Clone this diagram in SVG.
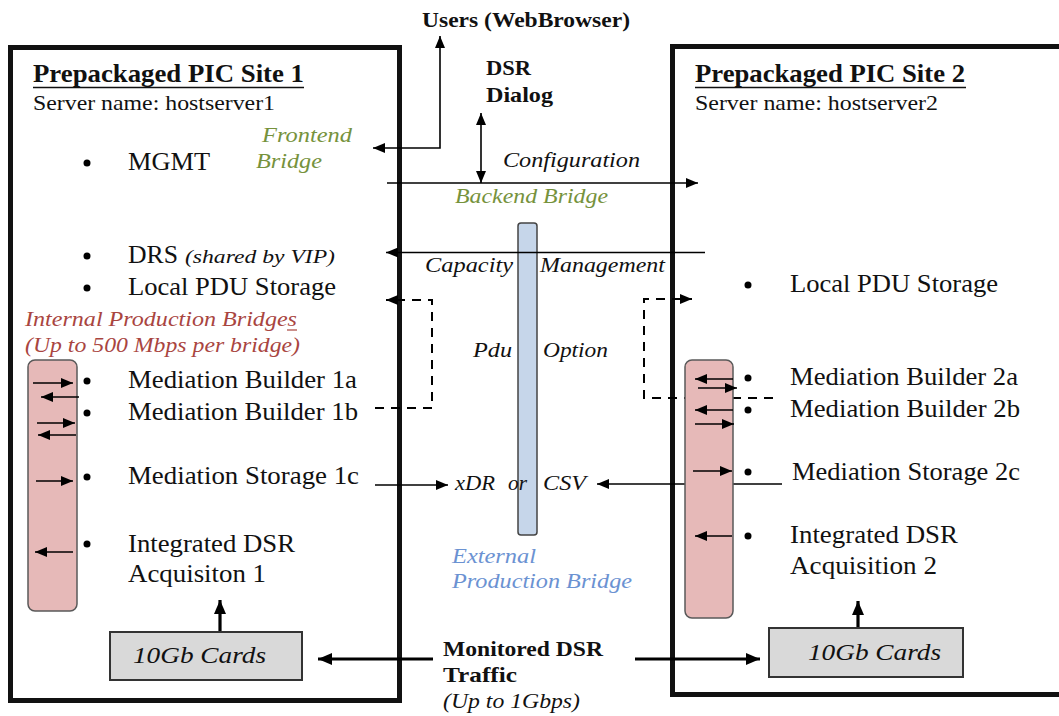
<svg xmlns="http://www.w3.org/2000/svg" width="1059" height="716" viewBox="0 0 1059 716">
<defs>
<style>
.frame{fill:none;stroke:#111;stroke-width:5}
.t{font-family:"Liberation Serif","Times New Roman",serif;fill:#111}
.m{font-size:26px}
.b{font-weight:bold}
.i{font-style:italic}
.olive{fill:#76923C}
.red{fill:#A9453F}
.blue{fill:#6B92D2}
.ln{fill:none;stroke:#000;stroke-width:1.6}
.thick{fill:none;stroke:#000;stroke-width:3.2}
.dash{fill:none;stroke:#000;stroke-width:2;stroke-dasharray:9,7}
.pink{fill:#E6B9B8;stroke:#595959;stroke-width:1.5}
.bluebar{fill:#C6D6EA;stroke:#444;stroke-width:1.5}
.card{fill:#D9D9D9;stroke:#333;stroke-width:2}
.dot{fill:#000}
</style>
<marker id="ah" viewBox="0 0 12 10" refX="12" refY="5" markerWidth="12" markerHeight="10" markerUnits="userSpaceOnUse" orient="auto-start-reverse"><path d="M0,0 L12,5 L0,10 Z" fill="#000"/></marker>
<marker id="ahs" viewBox="0 0 12 10" refX="12" refY="5" markerWidth="12" markerHeight="10" markerUnits="userSpaceOnUse" orient="auto-start-reverse"><path d="M0,0 L12,5 L0,10 Z" fill="#000"/></marker>
<marker id="ahb" viewBox="0 0 14 12" refX="14" refY="6" markerWidth="14" markerHeight="12" markerUnits="userSpaceOnUse" orient="auto-start-reverse"><path d="M0,0 L14,6 L0,12 Z" fill="#000"/></marker>
</defs>
<rect width="1059" height="716" fill="#fff"/>

<g id="site1">
<rect class="frame" x="10.5" y="47.5" width="389" height="653"/>
<text class="t b" x="33" y="82" font-size="25" textLength="271" lengthAdjust="spacingAndGlyphs">Prepackaged PIC Site 1</text>
<line x1="33" y1="87.5" x2="304" y2="87.5" stroke="#111" stroke-width="1.5"/>
<text class="t" x="33" y="110" font-size="21" textLength="242" lengthAdjust="spacingAndGlyphs">Server name: hostserver1</text>
</g>

<g id="site2">
<rect class="frame" x="672.5" y="46.5" width="400" height="648"/>
<text class="t b" x="695" y="82" font-size="25" textLength="270" lengthAdjust="spacingAndGlyphs">Prepackaged PIC Site 2</text>
<line x1="695" y1="87.5" x2="966" y2="87.5" stroke="#111" stroke-width="1.5"/>
<text class="t" x="695" y="110" font-size="21" textLength="243" lengthAdjust="spacingAndGlyphs">Server name: hostserver2</text>
</g>

<g id="external-production-bridge">
<rect class="bluebar" x="518" y="223" width="19" height="312" rx="3"/>
<text class="t i blue" x="452" y="563" font-size="21" textLength="84" lengthAdjust="spacingAndGlyphs">External</text>
<text class="t i blue" x="452" y="588" font-size="21" textLength="180" lengthAdjust="spacingAndGlyphs">Production Bridge</text>
</g>

<g id="connectors">
<path class="ln" d="M440,36 V148 H373" marker-start="url(#ah)" marker-end="url(#ah)"/>
<path class="ln" d="M481,113 V183" marker-start="url(#ah)" marker-end="url(#ah)"/>
<path class="ln" d="M387,183 H698" marker-end="url(#ah)"/>
<path class="ln" d="M705,252.5 H386" marker-end="url(#ah)"/>
<path class="dash" d="M375,408 H432 V300 H386" marker-end="url(#ah)"/>
<path class="dash" d="M773,398 H644 V299 H692" marker-end="url(#ah)"/>
<path class="ln" d="M375,485 H448" marker-end="url(#ah)"/>
<path class="ln" d="M782,484 H597" marker-end="url(#ah)"/>
<path class="thick" d="M433,659 H318" marker-end="url(#ahb)"/>
<path class="thick" d="M635,659 H760" marker-end="url(#ahb)"/>
<path class="thick" d="M220,632 V600" marker-end="url(#ahb)"/>
<path class="thick" d="M858,628 V601" marker-end="url(#ahb)"/>
</g>

<g id="connector-labels">
<text class="t b" x="422" y="27" font-size="21" textLength="208" lengthAdjust="spacingAndGlyphs">Users (WebBrowser)</text>
<text class="t b" x="486" y="75" font-size="21" textLength="45" lengthAdjust="spacingAndGlyphs">DSR</text>
<text class="t b" x="486" y="102" font-size="21" textLength="67" lengthAdjust="spacingAndGlyphs">Dialog</text>
<text class="t i olive" x="262" y="142" font-size="21" textLength="90" lengthAdjust="spacingAndGlyphs">Frontend</text>
<text class="t i olive" x="256" y="168" font-size="21" textLength="66" lengthAdjust="spacingAndGlyphs">Bridge</text>
<text class="t i" x="503" y="167" font-size="21" textLength="137" lengthAdjust="spacingAndGlyphs">Configuration</text>
<text class="t i olive" x="455" y="203" font-size="21" textLength="153" lengthAdjust="spacingAndGlyphs">Backend Bridge</text>
<text class="t i" x="425" y="272" font-size="21" textLength="88" lengthAdjust="spacingAndGlyphs">Capacity</text>
<text class="t i" x="540" y="272" font-size="21" textLength="125" lengthAdjust="spacingAndGlyphs">Management</text>
<text class="t i" x="473" y="357" font-size="21" textLength="39" lengthAdjust="spacingAndGlyphs">Pdu</text>
<text class="t i" x="543" y="357" font-size="21" textLength="65" lengthAdjust="spacingAndGlyphs">Option</text>
<text class="t i" x="455" y="490" font-size="21" textLength="40" lengthAdjust="spacingAndGlyphs">xDR</text>
<text class="t i" x="508" y="490" font-size="21" textLength="19" lengthAdjust="spacingAndGlyphs">or</text>
<text class="t i" x="543" y="490" font-size="21" textLength="43" lengthAdjust="spacingAndGlyphs">CSV</text>
<text class="t b" x="443" y="656" font-size="21" textLength="160" lengthAdjust="spacingAndGlyphs">Monitored DSR</text>
<text class="t b" x="443" y="682" font-size="21" textLength="74" lengthAdjust="spacingAndGlyphs">Traffic</text>
<text class="t i" x="443" y="708" font-size="21" textLength="137" lengthAdjust="spacingAndGlyphs">(Up to 1Gbps)</text>
</g>

<g id="internal-bridge-1">
<text class="t i red" x="25" y="326" font-size="21" textLength="272" lengthAdjust="spacingAndGlyphs">Internal Production Bridges</text>
<line x1="287" y1="330" x2="297" y2="330" stroke="#A9453F" stroke-width="1.2"/>
<text class="t i red" x="25" y="352" font-size="21" textLength="275" lengthAdjust="spacingAndGlyphs">(Up to 500 Mbps per bridge)</text>
<rect class="pink" x="28" y="360" width="49" height="251" rx="7"/>
<path class="ln" d="M33,383 H73" marker-end="url(#ahs)"/>
<path class="ln" d="M79,397 H41" marker-end="url(#ahs)"/>
<path class="ln" d="M37,423 H75" marker-end="url(#ahs)"/>
<path class="ln" d="M76,435 H38" marker-end="url(#ahs)"/>
<path class="ln" d="M36,481 H73" marker-end="url(#ahs)"/>
<path class="ln" d="M73,552 H35" marker-end="url(#ahs)"/>
</g>

<g id="internal-bridge-2">
<rect class="pink" x="685" y="360" width="48" height="258" rx="7"/>
<path class="ln" d="M733,379 H695" marker-end="url(#ahs)"/>
<path class="ln" d="M698,388 H737" marker-end="url(#ahs)"/>
<path class="ln" d="M733,410 H695" marker-end="url(#ahs)"/>
<path class="ln" d="M695,424 H734" marker-end="url(#ahs)"/>
<path class="ln" d="M693,471 H732" marker-end="url(#ahs)"/>
<path class="ln" d="M732,536 H695" marker-end="url(#ahs)"/>
</g>

<g id="site1-items">
<circle class="dot" cx="87" cy="163" r="3.5"/>
<text class="t m" x="128" y="170" textLength="82" lengthAdjust="spacingAndGlyphs">MGMT</text>
<circle class="dot" cx="87" cy="256" r="3.5"/>
<text class="t m" x="128" y="263" textLength="50" lengthAdjust="spacingAndGlyphs">DRS</text>
<text class="t i" x="185" y="263" font-size="19" textLength="150" lengthAdjust="spacingAndGlyphs">(shared by VIP)</text>
<circle class="dot" cx="87" cy="288" r="3.5"/>
<text class="t m" x="128" y="295" textLength="208" lengthAdjust="spacingAndGlyphs">Local PDU Storage</text>
<circle class="dot" cx="87" cy="381" r="3.5"/>
<text class="t m" x="128" y="388" textLength="229" lengthAdjust="spacingAndGlyphs">Mediation Builder 1a</text>
<circle class="dot" cx="87" cy="413" r="3.5"/>
<text class="t m" x="128" y="420" textLength="230" lengthAdjust="spacingAndGlyphs">Mediation Builder 1b</text>
<circle class="dot" cx="87" cy="477" r="3.5"/>
<text class="t m" x="128" y="484" textLength="231" lengthAdjust="spacingAndGlyphs">Mediation Storage 1c</text>
<circle class="dot" cx="87" cy="544" r="3.5"/>
<text class="t m" x="128" y="552" textLength="167" lengthAdjust="spacingAndGlyphs">Integrated DSR</text>
<text class="t m" x="128" y="582" textLength="138" lengthAdjust="spacingAndGlyphs">Acquisiton 1</text>
</g>

<g id="site2-items">
<circle class="dot" cx="748" cy="285" r="3.5"/>
<text class="t m" x="790" y="292" textLength="208" lengthAdjust="spacingAndGlyphs">Local PDU Storage</text>
<circle class="dot" cx="748" cy="378" r="3.5"/>
<text class="t m" x="790" y="385" textLength="228" lengthAdjust="spacingAndGlyphs">Mediation Builder 2a</text>
<circle class="dot" cx="748" cy="410" r="3.5"/>
<text class="t m" x="790" y="417" textLength="230" lengthAdjust="spacingAndGlyphs">Mediation Builder 2b</text>
<circle class="dot" cx="748" cy="472" r="3.5"/>
<text class="t m" x="792" y="480" textLength="228" lengthAdjust="spacingAndGlyphs">Mediation Storage 2c</text>
<circle class="dot" cx="748" cy="536" r="3.5"/>
<text class="t m" x="790" y="543" textLength="168" lengthAdjust="spacingAndGlyphs">Integrated DSR</text>
<text class="t m" x="790" y="574" textLength="147" lengthAdjust="spacingAndGlyphs">Acquisition 2</text>
</g>

<g id="cards1">
<rect class="card" x="110" y="632" width="192" height="48"/>
<text class="t i" x="133" y="663" font-size="24" textLength="133" lengthAdjust="spacingAndGlyphs">10Gb Cards</text>
</g>
<g id="cards2">
<rect class="card" x="769" y="628" width="194" height="49"/>
<text class="t i" x="808" y="660" font-size="24" textLength="133" lengthAdjust="spacingAndGlyphs">10Gb Cards</text>
</g>
</svg>
